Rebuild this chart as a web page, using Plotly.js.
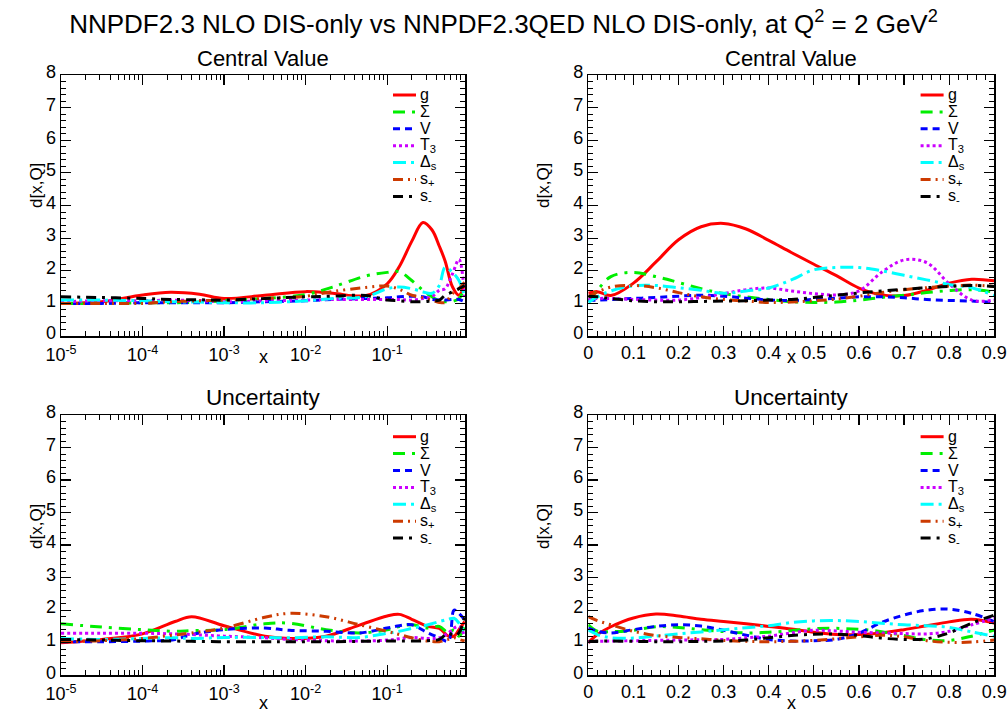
<!DOCTYPE html>
<html>
<head>
<meta charset="utf-8">
<script src="https://cdn.plot.ly/plotly-3.0.1.min.js"></script>
<style>html,body{margin:0;padding:0;background:#fff;} #chart{width:1007px;height:713px;}</style>
</head>
<body>
<div id="chart"></div>
<script>
// ---------- DATA ----------
const seriesNames = ['g', 'Σ', 'V', 'T<sub>3</sub>', 'Δ<sub>s</sub>', 's<sub>+</sub>', 's<sub>-</sub>'];

// Top-left: central value, log x
const xLogTop = [1e-5, 3.16e-5, 1e-4, 2.2e-4, 5.0e-4, 1e-3, 3.16e-3, 1e-2, 0.0214, 0.055, 0.1, 0.141, 0.2, 0.275, 0.355, 0.436, 0.513, 0.631, 0.759, 0.891];
const cvLog_g  = [1.0, 1.05, 1.26, 1.34, 1.28, 1.15, 1.25, 1.36, 1.31, 1.24, 1.6, 2.13, 2.9, 3.48, 3.25, 2.75, 2.3, 1.51, 1.25, 1.6];
const cvLog_S  = [1.0, 1.0, 1.02, 1.02, 1.04, 1.08, 1.15, 1.27, 1.5, 1.84, 1.95, 1.97, 1.7, 1.4, 1.2, 1.08, 1.05, 1.06, 1.15, 1.5];
const cvLog_V  = [1.0, 1.0, 1.02, 1.02, 1.02, 1.02, 1.05, 1.08, 1.12, 1.15, 1.17, 1.2, 1.22, 1.2, 1.12, 1.1, 1.1, 1.12, 1.12, 1.05];
const cvLog_T3 = [1.05, 1.08, 1.08, 1.1, 1.08, 1.05, 1.08, 1.1, 1.12, 1.12, 1.12, 1.12, 1.1, 1.15, 1.21, 1.4, 1.45, 1.9, 2.35, 1.2];
const cvLog_Ds = [1.1, 1.1, 1.08, 1.05, 1.04, 1.02, 1.02, 1.08, 1.15, 1.21, 1.45, 1.5, 1.45, 1.35, 1.31, 1.55, 2.1, 1.95, 1.7, 1.2];
const cvLog_sp = [1.0, 1.0, 1.0, 1.05, 1.08, 1.1, 1.15, 1.22, 1.36, 1.49, 1.53, 1.43, 1.25, 1.18, 1.1, 1.03, 1.03, 1.3, 1.45, 1.65];
const cvLog_sm = [1.2, 1.18, 1.15, 1.12, 1.11, 1.1, 1.15, 1.2, 1.22, 1.24, 1.1, 1.08, 1.05, 1.05, 1.08, 1.1, 1.25, 1.35, 1.45, 1.55];

// Top-right: central value, linear x
const xLin = [0, 0.02, 0.05, 0.1, 0.15, 0.2, 0.25, 0.3, 0.35, 0.4, 0.45, 0.5, 0.55, 0.6, 0.65, 0.7, 0.75, 0.8, 0.85, 0.9];
const cvLin_g  = [1.31, 1.36, 1.24, 1.62, 2.27, 2.95, 3.35, 3.45, 3.28, 2.93, 2.56, 2.2, 1.85, 1.47, 1.26, 1.24, 1.4, 1.62, 1.74, 1.69];
const cvLin_S  = [1.05, 1.4, 1.82, 1.95, 1.82, 1.64, 1.45, 1.3, 1.2, 1.12, 1.05, 1.03, 1.04, 1.1, 1.18, 1.25, 1.33, 1.39, 1.42, 1.35];
const cvLin_V  = [1.1, 1.1, 1.12, 1.15, 1.18, 1.22, 1.25, 1.22, 1.16, 1.1, 1.09, 1.12, 1.16, 1.2, 1.2, 1.17, 1.12, 1.09, 1.07, 1.03];
const cvLin_T3 = [1.12, 1.15, 1.15, 1.12, 1.1, 1.1, 1.18, 1.3, 1.42, 1.47, 1.38, 1.3, 1.26, 1.38, 1.95, 2.33, 2.25, 1.6, 1.1, 1.1];
const cvLin_Ds = [1.03, 1.2, 1.38, 1.54, 1.55, 1.48, 1.4, 1.31, 1.38, 1.47, 1.72, 2.03, 2.1, 2.1, 2.0, 1.86, 1.72, 1.58, 1.48, 1.24];
const cvLin_sp = [1.2, 1.35, 1.5, 1.55, 1.48, 1.33, 1.2, 1.12, 1.07, 1.03, 1.04, 1.08, 1.13, 1.22, 1.33, 1.42, 1.48, 1.53, 1.56, 1.52];
const cvLin_sm = [1.22, 1.2, 1.15, 1.08, 1.05, 1.05, 1.06, 1.07, 1.08, 1.1, 1.12, 1.18, 1.25, 1.32, 1.38, 1.43, 1.48, 1.52, 1.55, 1.52];

// Bottom-left: uncertainty, log x
const xLogBot = [1e-5, 3.16e-5, 1e-4, 2.5e-4, 4.0e-4, 1e-3, 3.16e-3, 6.3e-3, 0.0178, 0.0457, 0.1, 0.141, 0.2, 0.316, 0.436, 0.562, 0.661, 0.759, 0.891];
const unLog_g  = [1.0, 1.1, 1.27, 1.65, 1.8, 1.52, 1.2, 1.13, 1.2, 1.54, 1.82, 1.87, 1.72, 1.5, 1.44, 1.2, 1.2, 1.4, 1.65];
const unLog_S  = [1.58, 1.48, 1.4, 1.35, 1.37, 1.4, 1.58, 1.6, 1.4, 1.3, 1.4, 1.5, 1.55, 1.45, 1.5, 1.3, 1.4, 1.2, 1.5];
const unLog_V  = [1.03, 1.03, 1.05, 1.1, 1.25, 1.4, 1.45, 1.38, 1.35, 1.3, 1.45, 1.52, 1.55, 1.3, 1.15, 1.05, 2.0, 1.9, 1.7];
const unLog_T3 = [1.29, 1.29, 1.29, 1.27, 1.25, 1.2, 1.15, 1.1, 1.06, 1.05, 1.08, 1.12, 1.16, 1.13, 1.15, 1.3, 1.45, 1.5, 1.2];
const unLog_Ds = [1.13, 1.1, 1.13, 1.15, 1.13, 1.16, 1.16, 1.15, 1.18, 1.16, 1.29, 1.35, 1.44, 1.55, 1.65, 1.72, 1.75, 1.6, 1.3];
const unLog_sp = [1.03, 1.06, 1.13, 1.24, 1.3, 1.45, 1.78, 1.9, 1.8, 1.55, 1.35, 1.25, 1.15, 1.05, 1.03, 1.1, 1.15, 1.1, 1.05];
const unLog_sm = [1.1, 1.08, 1.06, 1.05, 1.04, 1.03, 1.03, 1.03, 1.03, 1.04, 1.05, 1.05, 1.05, 1.06, 1.1, 1.3, 1.2, 1.3, 1.8];

// Bottom-right: uncertainty, linear x
const unLin_g  = [1.0, 1.25, 1.49, 1.76, 1.88, 1.82, 1.72, 1.65, 1.58, 1.5, 1.42, 1.32, 1.25, 1.25, 1.3, 1.4, 1.52, 1.64, 1.72, 1.6];
const unLin_S  = [1.55, 1.35, 1.34, 1.38, 1.49, 1.47, 1.4, 1.34, 1.3, 1.32, 1.37, 1.43, 1.44, 1.41, 1.34, 1.22, 1.09, 1.07, 1.2, 1.39];
const unLin_V  = [1.45, 1.35, 1.3, 1.4, 1.5, 1.55, 1.51, 1.38, 1.23, 1.1, 1.05, 1.06, 1.1, 1.29, 1.62, 1.85, 2.0, 2.03, 1.9, 1.65];
const unLin_T3 = [1.03, 1.04, 1.05, 1.06, 1.07, 1.08, 1.09, 1.1, 1.15, 1.2, 1.3, 1.38, 1.36, 1.32, 1.3, 1.28, 1.27, 1.35, 1.55, 1.75];
const unLin_Ds = [1.39, 1.25, 1.15, 1.14, 1.2, 1.27, 1.33, 1.4, 1.46, 1.52, 1.62, 1.67, 1.68, 1.65, 1.6, 1.55, 1.52, 1.47, 1.33, 1.2];
const unLin_sp = [1.8, 1.68, 1.55, 1.35, 1.22, 1.16, 1.12, 1.07, 1.04, 1.03, 1.04, 1.07, 1.12, 1.18, 1.23, 1.18, 1.06, 1.01, 1.02, 1.08];
const unLin_sm = [1.03, 1.05, 1.05, 1.04, 1.03, 1.03, 1.04, 1.05, 1.08, 1.15, 1.22, 1.26, 1.26, 1.22, 1.14, 1.1, 1.12, 1.3, 1.6, 1.85];

const logTickVals = [1e-5, 1e-4, 1e-3, 1e-2, 1e-1];
const logTickText = ['10<sup>-5</sup>', '10<sup>-4</sup>', '10<sup>-3</sup>', '10<sup>-2</sup>', '10<sup>-1</sup>'];
const linTickVals = [0, 0.1, 0.2, 0.3, 0.4, 0.5, 0.6, 0.7, 0.8, 0.9];
const linTickText = ['0', '0.1', '0.2', '0.3', '0.4', '0.5', '0.6', '0.7', '0.8', '0.9'];

// ---------- STYLE ----------
const styles = [
  {color: '#ff0000', dash: 'solid'},
  {color: '#00ee00', dash: '12px,7px,3px,7px'},
  {color: '#0000ff', dash: '7px,5px'},
  {color: '#cc00ff', dash: '3px,3px'},
  {color: '#00ffff', dash: '13px,5px,3px,5px'},
  {color: '#cc3a00', dash: '10px,5px,2px,5px,2px,5px'},
  {color: '#000000', dash: '10px,6px,3px,6px'}
];

const W = 1007, H = 713;
const px = v => v / W;
const py = v => 1 - v / H;

const panels = [
  {x: xLogTop, ys: [cvLog_g, cvLog_S, cvLog_V, cvLog_T3, cvLog_Ds, cvLog_sp, cvLog_sm], xa: 'x', ya: 'y'},
  {x: xLin, ys: [cvLin_g, cvLin_S, cvLin_V, cvLin_T3, cvLin_Ds, cvLin_sp, cvLin_sm], xa: 'x2', ya: 'y2'},
  {x: xLogBot, ys: [unLog_g, unLog_S, unLog_V, unLog_T3, unLog_Ds, unLog_sp, unLog_sm], xa: 'x3', ya: 'y3'},
  {x: xLin, ys: [unLin_g, unLin_S, unLin_V, unLin_T3, unLin_Ds, unLin_sp, unLin_sm], xa: 'x4', ya: 'y4'}
];

const traces = [];
panels.forEach(p => {
  p.ys.forEach((y, i) => {
    traces.push({
      type: 'scatter', mode: 'lines', x: p.x, y: y,
      name: seriesNames[i], xaxis: p.xa, yaxis: p.ya, showlegend: false,
      line: {color: styles[i].color, dash: styles[i].dash, width: 3, shape: 'spline', smoothing: 1.0},
      hoverinfo: 'skip'
    });
  });
});

const minorLog = [];
for (let d = -5; d <= -1; d++) {
  for (let k = 2; k <= 9; k++) {
    const v = k * Math.pow(10, d);
    if (v < 0.9) minorLog.push(v);
  }
}

const fontFam = 'Liberation Sans, Arial, sans-serif';
const axisCommon = {
  showline: true, linecolor: '#000', linewidth: 1.5, mirror: 'allticks',
  ticks: 'inside', ticklen: 10, tickwidth: 1.2, tickcolor: '#000',
  showgrid: false, zeroline: false, fixedrange: true,
  tickfont: {family: fontFam, size: 18, color: '#000'}
};
function logX(dom, anchor) {
  return Object.assign({}, axisCommon, {
    type: 'log', domain: dom, anchor: anchor, range: [-5, Math.log10(0.9)],
    tickmode: 'array', tickvals: logTickVals, ticktext: logTickText,
    minor: {tickmode: 'array', tickvals: minorLog, ticks: 'inside', ticklen: 5, tickcolor: '#000', tickwidth: 1},
    ticklabelstandoff: 2
  });
}
function linX(dom, anchor) {
  return Object.assign({}, axisCommon, {
    type: 'linear', domain: dom, anchor: anchor, range: [0, 0.9],
    tickmode: 'array', tickvals: linTickVals, ticktext: linTickText,
    minor: {dtick: 0.02, tick0: 0, ticks: 'inside', ticklen: 5, tickcolor: '#000', tickwidth: 1}
  });
}
function linY(dom, anchor) {
  return Object.assign({}, axisCommon, {
    type: 'linear', domain: dom, anchor: anchor, range: [0, 8],
    tickmode: 'linear', tick0: 0, dtick: 1,
    minor: {dtick: 0.2, tick0: 0, ticks: 'inside', ticklen: 5, tickcolor: '#000', tickwidth: 1},
    ticklabelshift: -3
  });
}

const xL = [px(61), px(465)], xR = [px(588.3), px(994.3)];
const yT = [py(336), py(75)], yB = [py(675.2), py(415)];

function ann(text, x, y, size, extra) {
  return Object.assign({text: text, x: px(x), y: py(y), xref: 'paper', yref: 'paper', showarrow: false,
    xanchor: 'center', yanchor: 'middle', font: {family: fontFam, size: size, color: '#000'}}, extra || {});
}

// Key (legend) boxes, drawn inside each panel
const annotations = [
  ann('Central Value', 263, 58, 22), ann('Central Value', 791, 58, 22),
  ann('Uncertainty', 263, 397, 22.5), ann('Uncertainty', 791, 397, 22.5),
  ann('x', 263, 357, 18), ann('x', 791, 357, 18),
  ann('x', 263, 703, 18), ann('x', 791, 703, 18),
  ann('d[x,Q]', 36, 186, 17, {textangle: -90}), ann('d[x,Q]', 543, 186, 17, {textangle: -90}),
  ann('d[x,Q]', 36, 527, 17, {textangle: -90}), ann('d[x,Q]', 543, 527, 17, {textangle: -90})
];
const shapes = [];
const keyOrigins = [[393, 95], [920.6, 95], [393, 436.7], [920.6, 436.7]];
const rowStep = 16.9;
keyOrigins.forEach(o => {
  seriesNames.forEach((nm, i) => {
    const yy = o[1] + i * rowStep;
    shapes.push({type: 'line', xref: 'paper', yref: 'paper', x0: px(o[0]), x1: px(o[0] + 23), y0: py(yy), y1: py(yy),
      line: {color: styles[i].color, width: 3, dash: styles[i].dash}});
    annotations.push(ann(nm, o[0] + 25, yy, 16, {xanchor: 'left'}));
  });
});

const layout = {
  width: W, height: H,
  margin: {l: 0, r: 0, t: 0, b: 0},
  paper_bgcolor: '#fff', plot_bgcolor: '#fff',
  title: {text: 'NNPDF2.3 NLO DIS-only vs NNPDF2.3QED NLO DIS-only, at Q<sup>2</sup> = 2 GeV<sup>2</sup>',
          x: 0.5, xanchor: 'center', y: py(24), yanchor: 'middle', xref: 'paper', yref: 'paper',
          font: {family: fontFam, size: 26, color: '#000'}},
  xaxis: logX(xL, 'y'), yaxis: linY(yT, 'x'),
  xaxis2: linX(xR, 'y2'), yaxis2: linY(yT, 'x2'),
  xaxis3: logX(xL, 'y3'), yaxis3: linY(yB, 'x3'),
  xaxis4: linX(xR, 'y4'), yaxis4: linY(yB, 'x4'),
  annotations: annotations, shapes: shapes,
  showlegend: false
};

Plotly.newPlot('chart', traces, layout, {displayModeBar: false, staticPlot: true});
</script>
</body>
</html>
